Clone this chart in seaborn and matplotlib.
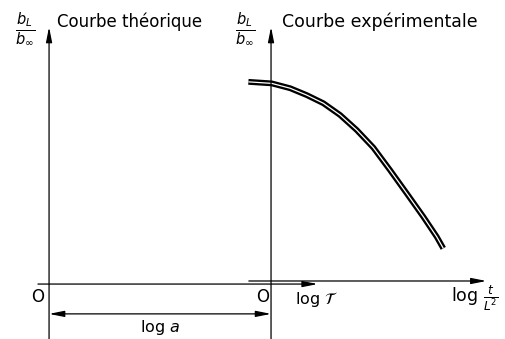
import numpy as np
import pandas as pd

import matplotlib
matplotlib.use("Agg")
import matplotlib.pyplot as plt
import seaborn as sns

log_t_L2 = [-1.02, 0.03, 0.86, 1.61, 2.36, 3.11, 3.86, 4.61, 5.36, 6.11, 6.86, 7.46, 7.76]
b_ratio = [0.785, 0.779, 0.760, 0.733, 0.701, 0.655, 0.596, 0.527, 0.439, 0.348, 0.256, 0.178, 0.132]

# shift between the two origins (log a)
log_a = 10.0

labels_top = ["Courbe théorique", "Courbe expérimentale"]
ylabel = r"$\frac{b_L}{b_\infty}$"

curve = pd.DataFrame({"x": log_t_L2, "y": b_ratio})

sns.set_style("white")
plt.rcParams["font.family"] = ["DejaVu Sans"]
plt.rcParams["text.color"] = "black"

fig = plt.figure(figsize=(5.05, 3.39), dpi=100)
ax = fig.add_axes([0, 0, 1, 1])

arrow = dict(arrowstyle="-|>,head_length=0.9,head_width=0.18", color="black",
             lw=0.9, shrinkA=0, shrinkB=0)

# vertical axes
for x0 in (-log_a, 0.0):
    ax.annotate("", xy=(x0, 1.0), xytext=(x0, -0.23), arrowprops=arrow)

# horizontal axes
ax.annotate("", xy=(2.1, -0.008), xytext=(-10.5, -0.008), arrowprops=arrow)
ax.annotate("", xy=(9.7, 0.004), xytext=(-1.0, 0.004), arrowprops=arrow)

# log a double arrow
ax.annotate("", xy=(0, -0.125), xytext=(-log_a, -0.125),
            arrowprops=dict(arrowstyle="<|-|>,head_length=0.9,head_width=0.18",
                            color="black", lw=0.9, shrinkA=0, shrinkB=0))

# double-stroke curve
sns.lineplot(data=curve, x="x", y="y", ax=ax, color="black", linewidth=4.2,
             sort=False, solid_capstyle="butt", solid_joinstyle="round")
sns.lineplot(data=curve, x="x", y="y", ax=ax, color="white", linewidth=0.9,
             sort=False, solid_capstyle="butt", solid_joinstyle="round")
ax.set_xlim(-12.21, 10.54)
ax.set_ylim(-0.2235, 1.106)
ax.axis("off")

fs = 12
ax.text(-11.1, 0.99, ylabel, fontsize=15, ha="center", va="center")
ax.text(-1.17, 0.99, ylabel, fontsize=15, ha="center", va="center")
ax.text(-9.64, 1.02, labels_top[0], fontsize=fs, ha="left", va="center")
ax.text(0.5, 1.02, labels_top[1], fontsize=fs + 0.5, ha="left", va="center")

ax.text(-10.5, -0.06, "O", fontsize=fs, ha="center", va="center")
ax.text(-0.4, -0.06, "O", fontsize=fs, ha="center", va="center")
ax.text(1.1, -0.07, r"log $\mathcal{T}$", fontsize=11.5, ha="left", va="center")
ax.text(8.1, -0.065, r"log $\frac{t}{L^2}$", fontsize=12.5, ha="left", va="center")
ax.text(-5.0, -0.178, r"log $a$", fontsize=11.5, ha="center", va="center")

fig.savefig("out.png", dpi=100)
